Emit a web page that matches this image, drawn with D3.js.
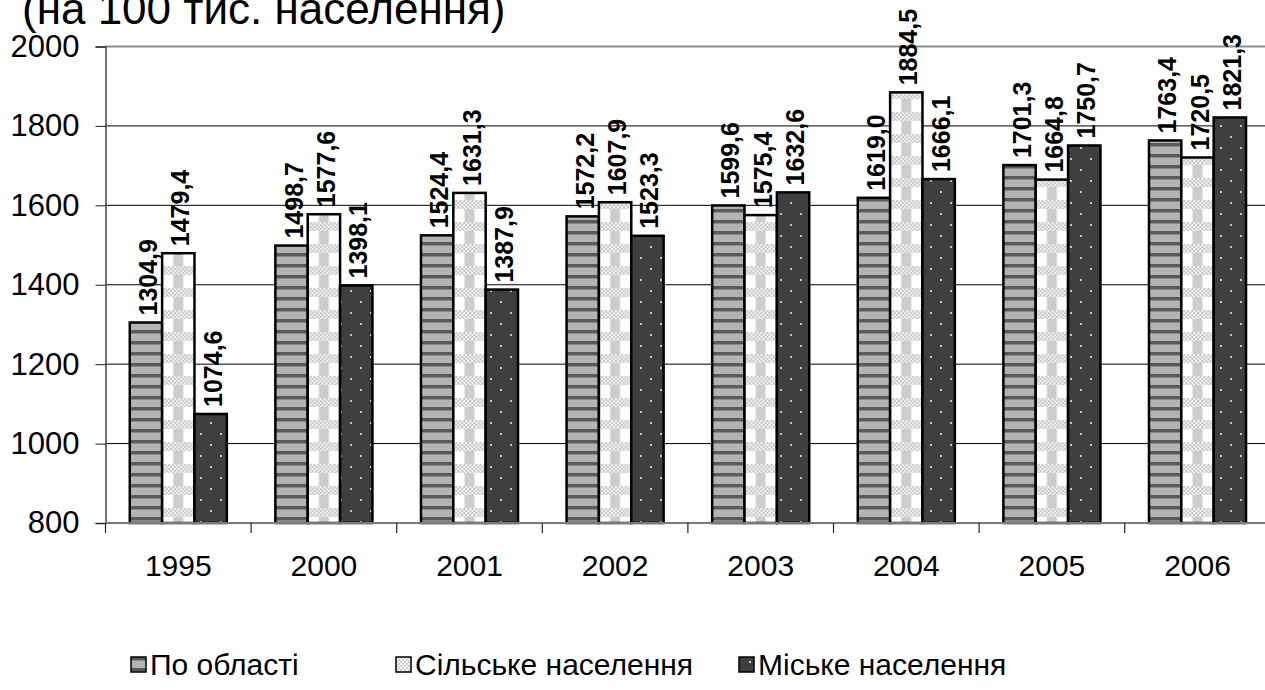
<!DOCTYPE html>
<html><head><meta charset="utf-8">
<script src="https://cdn.jsdelivr.net/npm/d3@7/dist/d3.min.js"></script>
<style>
html,body{margin:0;padding:0;background:#fff;}
svg{display:block;font-family:"Liberation Sans",Arial,sans-serif;}
</style></head>
<body>
<svg id="chart" width="1265" height="690"></svg>
<script>
const categories = ["1995","2000","2001","2002","2003","2004","2005","2006"];
const seriesNames = ["По області","Сільське населення","Міське населення"];
const oblast = [1304.9,1498.7,1524.4,1572.2,1599.6,1619.0,1701.3,1763.4];
const rural  = [1479.4,1577.6,1631.3,1607.9,1575.4,1884.5,1664.8,1720.5];
const urban  = [1074.6,1398.1,1387.9,1523.3,1632.6,1666.1,1750.7,1821.3];
const yTicks = [800,1000,1200,1400,1600,1800,2000];
const titleText = "(на 100 тис. населення)";

const seriesValues = [oblast, rural, urban];
const svg = d3.select("#chart");
const defs = svg.append("defs");

const x = d3.scaleBand().domain(categories).range([105.5, 1270.3]).paddingInner(0).paddingOuter(0);
const xi = d3.scaleBand().domain([0,1,2]).range([0, x.bandwidth()]).paddingOuter(0.75).paddingInner(0);
const y = d3.scaleLinear().domain([800,2000]).range([523, 46.5]);
const bw = xi.bandwidth();

// patterns
const pS = defs.append("pattern").attr("id","pStripe").attr("patternUnits","userSpaceOnUse")
  .attr("width",10).attr("height",11);
pS.append("rect").attr("width",10).attr("height",11).attr("fill","#b3b3b3");
pS.append("rect").attr("y",0).attr("width",10).attr("height",3).attr("fill","#5a5a5a");
pS.append("rect").attr("y",3).attr("width",10).attr("height",1).attr("fill","#8a8a8a");
const pC = defs.append("pattern").attr("id","pCheck").attr("patternUnits","userSpaceOnUse")
  .attr("width",4).attr("height",4);
pC.append("rect").attr("width",4).attr("height",4).attr("fill","#f2f2f2");
pC.append("rect").attr("width",2).attr("height",2).attr("fill","#c8c8c8");
pC.append("rect").attr("x",2).attr("y",2).attr("width",2).attr("height",2).attr("fill","#c8c8c8");
const pD = defs.append("pattern").attr("id","pDot").attr("patternUnits","userSpaceOnUse")
  .attr("width",20).attr("height",22);
pD.append("rect").attr("width",20).attr("height",22).attr("fill","#3f3f3f");
pD.append("rect").attr("x",10).attr("y",4).attr("width",2).attr("height",2).attr("fill","#c4c4c4");
pD.append("rect").attr("x",0).attr("y",15).attr("width",2).attr("height",2).attr("fill","#c4c4c4");
categories.forEach((c,i)=>{
  const bx = x(c) + xi(1);
  const p = defs.append("pattern").attr("id","pRural"+i).attr("patternUnits","userSpaceOnUse")
    .attr("x",bx).attr("y",0).attr("width",bw).attr("height",22);
  p.append("rect").attr("width",bw).attr("height",22).attr("fill","#ffffff");
  p.append("rect").attr("x",bw/2-5).attr("width",10).attr("height",22).attr("fill","#cdcdcd");
  p.append("rect").attr("y",2).attr("width",bw).attr("height",9).attr("fill","url(#pCheck)");
});
const pL = defs.append("pattern").attr("id","pRuralL").attr("patternUnits","userSpaceOnUse")
  .attr("width",4).attr("height",4);
pL.append("rect").attr("width",4).attr("height",4).attr("fill","#f4f4f4");
pL.append("rect").attr("width",2).attr("height",2).attr("fill","#cfcfcf");
pL.append("rect").attr("x",2).attr("y",2).attr("width",2).attr("height",2).attr("fill","#cfcfcf");

const fills = [()=>"url(#pStripe)", (i)=>"url(#pRural"+i+")", ()=>"url(#pDot)"];

// title (partly cut at the top, as in the reference)
svg.append("text").attr("x",22).attr("y",24).attr("font-size",44).attr("fill","#000").text(titleText);

// gridlines
const xL = 105.5, xR = 1270.3;
svg.append("g").selectAll("line").data(yTicks.filter(t=>t>800)).join("line")
  .attr("x1",xL).attr("x2",xR).attr("y1",d=>y(d)).attr("y2",d=>y(d))
  .attr("stroke",d=>d===2000?"#8c8c8c":"#000").attr("stroke-width",d=>d===2000?2:1);

// y axis
const yAxis = svg.append("g").attr("transform",`translate(${xL},0)`)
  .call(d3.axisLeft(y).tickValues(yTicks).tickSize(10).tickPadding(16).tickFormat(d3.format("d")));
yAxis.select(".domain").attr("stroke","#444").attr("stroke-width",1.5);
yAxis.selectAll(".tick line").attr("stroke","#222");
yAxis.selectAll(".tick text").attr("font-size",31).attr("fill","#000")
  .attr("font-family","Liberation Sans, Arial, sans-serif");

// bars
seriesValues.forEach((vals,s)=>{
  svg.append("g").selectAll("rect").data(vals).join("rect")
    .attr("x",(d,i)=>x(categories[i])+xi(s))
    .attr("y",d=>y(d))
    .attr("width",bw)
    .attr("height",d=>y(800)-y(d))
    .attr("fill",(d,i)=>fills[s](i))
    .attr("stroke","#000").attr("stroke-width",2.5);
});

// x axis line
svg.append("line").attr("x1",xL).attr("x2",xR).attr("y1",y(800)).attr("y2",y(800))
  .attr("stroke","#7a7a7a").attr("stroke-width",2);
svg.append("g").selectAll("line").data(categories).join("line")
  .attr("x1",d=>x(d)).attr("x2",d=>x(d)).attr("y1",y(800)).attr("y2",y(800)+10)
  .attr("stroke","#222").attr("stroke-width",1.2);
const xAxis = svg.append("g").attr("transform",`translate(0,${y(800)})`)
  .call(d3.axisBottom(x).tickSize(0).tickPadding(32));
xAxis.select(".domain").remove();
xAxis.selectAll(".tick text").attr("font-size",30).attr("fill","#000")
  .attr("font-family","Liberation Sans, Arial, sans-serif");

// data labels
const fmt = v => v.toFixed(1).replace(".",",");
seriesValues.forEach((vals,s)=>{
  svg.append("g").selectAll("text").data(vals).join("text")
    .attr("transform",(d,i)=>`translate(${x(categories[i])+xi(s)+bw/2+2},${y(d)-7}) rotate(-90)`)
    .attr("dy","0.36em")
    .attr("font-size",25).attr("font-weight","bold").attr("fill","#000")
    .text(d=>fmt(d));
});

// legend
const legendItems = [
  {name:seriesNames[0], fill:"url(#pStripe)", x:131},
  {name:seriesNames[1], fill:"url(#pRuralL)", x:396},
  {name:seriesNames[2], fill:"url(#pDot)", x:739}
];
const lg = svg.append("g");
const li = lg.selectAll("g").data(legendItems).join("g").attr("transform",d=>`translate(${d.x},657)`);
li.append("rect").attr("width",15).attr("height",15).attr("fill",d=>d.fill).attr("stroke","#000").attr("stroke-width",1.5);
li.append("text").attr("x",19).attr("y",18).attr("font-size",30).attr("fill","#000").text(d=>d.name);
</script>
</body></html>
